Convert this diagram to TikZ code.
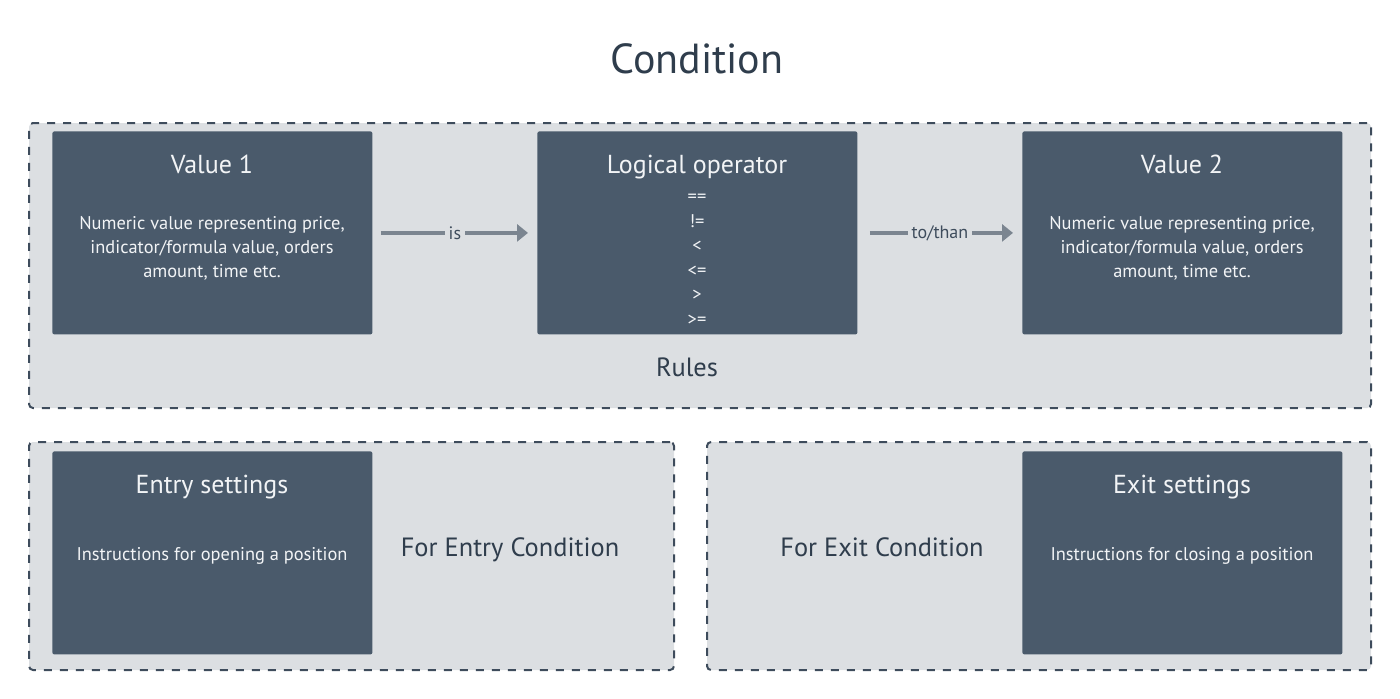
\documentclass[tikz,border=0pt]{standalone}
\usepackage{fontspec}
\setmainfont{PT Sans}
\usetikzlibrary{arrows.meta,positioning}
\definecolor{panelbg}{HTML}{DCDFE2}
\definecolor{boxfill}{HTML}{4A5A6B}
\definecolor{titlecol}{HTML}{2F3D4C}
\definecolor{dashcol}{HTML}{3E4C5C}
\definecolor{flowcol}{HTML}{7B8590}
\definecolor{boxtext}{HTML}{F2F4F6}
\begin{document}
\begin{tikzpicture}[
                        x=0.5pt, y=-0.5pt,
                        >={Triangle[length=5.5pt,width=8.5pt]},
                        panel/.style={draw=dashcol, fill=panelbg, line width=1pt, dash pattern=on 4pt off 4pt, rounded corners=2pt, anchor=north west, inner sep=0pt},
                        block/.style={fill=boxfill, rounded corners=1pt, anchor=north west, inner sep=0pt, minimum width=160pt, minimum height=101.5pt},
                        blocktitle/.style={text=boxtext, anchor=base, font=\fontsize{13}{16}\selectfont},
                        blocktext/.style={text=boxtext, align=center, font=\fontsize{9.2}{12}\selectfont},
                        paneltext/.style={text=titlecol, anchor=base, font=\fontsize{13.2}{16}\selectfont},
                        flow/.style={->, draw=flowcol, line width=2pt},
                        flowlabel/.style={fill=panelbg, text=dashcol, inner sep=2pt, font=\fontsize{9}{12}\selectfont}
                    ]
                    \useasboundingbox (0,0) rectangle (1400,698);
                    \node [text=titlecol, anchor=base, font=\fontsize{21}{25}\selectfont] (title) at (697,73) {Condition};

                    % Panels
                    \node [panel, minimum width=671pt, minimum height=142.5pt] (rules) at (28,122) {};
                    \node [panel, minimum width=322.5pt, minimum height=114pt] (entrypanel) at (28,441) {};
                    \node [panel, minimum width=332pt, minimum height=114pt] (exitpanel) at (706,441) {};
                    \node [paneltext] (ruleslabel) at (687,376) {Rules};
                    \node [paneltext] (entrylabel) at (510,556) {For Entry Condition};
                    \node [paneltext] (exitlabel) at (882,556) {For Exit Condition};

                    % Blocks
                    \node [block] (value1) at (52,131) {};
                    \node [block] (logic) at (537,131) {};
                    \node [block] (value2) at (1022,131) {};
                    \node [block] (entry) at (52,451) {};
                    \node [block] (exit) at (1022,451) {};

                    \node [blocktitle] (value1title) at (212,173) {Value 1};
                    \node [blocktext] (value1text) at (212,248) {Numeric value representing price,\\indicator/formula value, orders\\amount, time etc.};
                    \node [blocktitle] (logictitle) at (697,173) {Logical operator};
                    \node [blocktext, font=\fontsize{9.2}{12.25}\selectfont] (logictext) at (697,260) {==\\!=\\<\\<=\\>\\>=};
                    \node [blocktitle] (value2title) at (1182,173) {Value 2};
                    \node [blocktext] (value2text) at (1182,248) {Numeric value representing price,\\indicator/formula value, orders\\amount, time etc.};
                    \node [blocktitle] (entrytitle) at (212,493) {Entry settings};
                    \node [blocktext] (entrytext) at (212,556) {Instructions for opening a position};
                    \node [blocktitle] (exittitle) at (1182,493) {Exit settings};
                    \node [blocktext] (exittext) at (1182,556) {Instructions for closing a position};

                    % Connections
                    \draw [flow, shorten <=4pt, shorten >=4.5pt] (value1) -- node[flowlabel]{is} (logic);
                    \draw [flow, shorten <=6pt, shorten >=4.5pt] (logic) -- node[flowlabel]{to/than} (value2);
                \end{tikzpicture}
\end{document}
